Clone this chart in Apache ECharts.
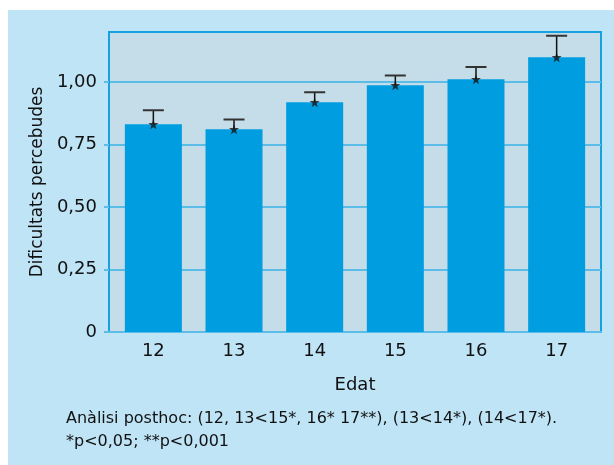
<!DOCTYPE html>
<html>
<head>
<meta charset="utf-8">
<script src="https://cdn.jsdelivr.net/npm/echarts@6/dist/echarts.min.js"></script>
<style>
  html, body { margin: 0; padding: 0; background: #fff; }
  #panel { position: absolute; left: 8px; top: 10px; width: 606px; height: 455px; background: #bee4f6; }
  #chart { position: absolute; left: 0; top: 0; width: 614px; height: 465px; }
</style>
</head>
<body>
<div id="panel"></div>
<div id="chart"></div>
<script>
// edat (anys) i dificultats percebudes
const ages = [12, 13, 14, 15, 16, 17];
const means = [0.831, 0.811, 0.919, 0.987, 1.011, 1.099];
const upperErr = [0.887, 0.850, 0.959, 1.026, 1.060, 1.185];
const yTicks = [0, 0.25, 0.5, 0.75, 1.0];
const yTickLabels = ['0', '0,25', '0,50', '0,75', '1,00'];
const footnote = [
  'Anàlisi posthoc: (12, 13<15*, 16* 17**), (13<14*), (14<17*).',
  '*p<0,05; **p<0,001'
];

const FONT = 'DejaVu Sans';
const TXT = '#111';
const starPath = 'path://M50,0 L61,35 L98,35 L68,57 L79,91 L50,70 L21,91 L32,57 L2,35 L39,35 Z';

const chart = echarts.init(document.getElementById('chart'));

const option = {
  animation: false,
  backgroundColor: 'transparent',
  textStyle: { fontFamily: FONT, color: TXT },
  title: {
    text: footnote.join('\n'),
    left: 61,
    top: 402,
    textStyle: { fontFamily: FONT, fontSize: 16, fontWeight: 'normal', color: TXT, lineHeight: 23 }
  },
  grid: {
    left: 109, right: 13, top: 32, bottom: 133,
    show: true,
    backgroundColor: '#c5dde9',
    borderColor: '#17a2df',
    borderWidth: 2
  },
  xAxis: {
    type: 'value',
    min: 11.45,
    max: 17.55,
    name: 'Edat',
    nameLocation: 'middle',
    nameGap: 44,
    nameTextStyle: { fontFamily: FONT, fontSize: 18, color: TXT },
    axisLine: { show: true, lineStyle: { color: '#5bbde8', width: 2 } },
    axisTick: { show: false },
    splitLine: { show: false },
    axisLabel: {
      customValues: ages,
      fontFamily: FONT, fontSize: 18, color: TXT, margin: 10,
      formatter: v => String(v)
    }
  },
  yAxis: {
    type: 'value',
    min: 0,
    max: 1.2,
    interval: 0.25,
    name: 'Dificultats percebudes',
    nameLocation: 'middle',
    nameGap: 62,
    nameTextStyle: { fontFamily: FONT, fontSize: 17, color: TXT },
    axisLine: { show: true, lineStyle: { color: '#17a2df', width: 2 } },
    axisTick: { show: true, customValues: yTicks, length: 5, lineStyle: { color: '#5bbde8', width: 2 } },
    splitLine: { show: true, lineStyle: { color: '#5bbde8', width: 2 } },
    axisLabel: {
      customValues: yTicks,
      fontFamily: FONT, fontSize: 18, color: TXT, margin: 12,
      formatter: v => yTickLabels[yTicks.indexOf(v)] ?? ''
    }
  },
  series: [
    {
      type: 'bar',
      barWidth: 57,
      itemStyle: { color: '#009ee0' },
      data: ages.map((a, i) => [a, means[i]]),
      z: 2
    },
    {
      type: 'custom',
      z: 3,
      data: ages.map((a, i) => [a, means[i], upperErr[i]]),
      renderItem: function (params, api) {
        const lo = api.coord([api.value(0), api.value(1)]);
        const hi = api.coord([api.value(0), api.value(2)]);
        const half = 10.5;
        return {
          type: 'group',
          children: [
            { type: 'line', shape: { x1: lo[0], y1: lo[1], x2: hi[0], y2: hi[1] },
              style: { stroke: '#111', lineWidth: 1.5 } },
            { type: 'line', shape: { x1: hi[0] - half, y1: hi[1], x2: hi[0] + half, y2: hi[1] },
              style: { stroke: '#333', lineWidth: 2 } }
          ]
        };
      }
    },
    {
      type: 'scatter',
      z: 4,
      symbol: starPath,
      symbolSize: 10,
      itemStyle: { color: '#111' },
      data: ages.map((a, i) => [a, means[i]])
    }
  ]
};

chart.setOption(option);
</script>
</body>
</html>
